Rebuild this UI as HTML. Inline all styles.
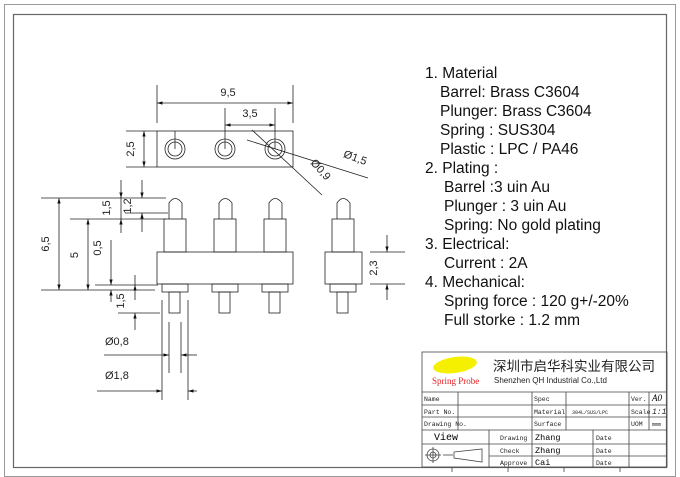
<!DOCTYPE html>
<html><head><meta charset="utf-8"><style>
body{margin:0;background:#fff}
svg{display:block}
.t{font-family:"Liberation Sans",sans-serif;font-size:15.5px;fill:#111}
.d{font-family:"Liberation Sans",sans-serif;font-size:11px;fill:#222}
.s{font-family:"Liberation Mono",monospace;font-size:6.5px;fill:#222}
</style></head><body>
<svg width="680" height="477" viewBox="0 0 680 477" xmlns="http://www.w3.org/2000/svg">
<defs><marker id="a" viewBox="0 0 10 10" refX="10" refY="5" markerWidth="7" markerHeight="7" orient="auto-start-reverse"><path d="M0,2 L10,5 L0,8z" fill="#111"/></marker></defs>
<rect x="4.5" y="4.5" width="671" height="472" fill="none" stroke="#999" stroke-width="1"/>
<rect x="13.5" y="14.5" width="653" height="453" fill="none" stroke="#666" stroke-width="1.2"/>
<g stroke="#222" stroke-width="0.8" fill="none">
<rect x="157" y="131" width="136" height="36"/>
<circle cx="175" cy="149" r="10"/><circle cx="175" cy="149" r="7"/>
<circle cx="225" cy="149" r="10"/><circle cx="225" cy="149" r="7"/>
<circle cx="275" cy="149" r="10"/><circle cx="275" cy="149" r="7"/>
<line x1="157" y1="85" x2="157" y2="123"/><line x1="293" y1="85" x2="293" y2="123"/>
<line x1="157" y1="103" x2="293" y2="103" marker-start="url(#a)" marker-end="url(#a)"/>
<line x1="225" y1="108" x2="225" y2="149"/><line x1="275" y1="108" x2="275" y2="149"/>
<line x1="175" y1="131" x2="175" y2="149"/>
<line x1="225" y1="125" x2="275" y2="125" marker-start="url(#a)" marker-end="url(#a)"/>
<line x1="126" y1="131" x2="157" y2="131"/><line x1="126" y1="167" x2="157" y2="167"/>
<line x1="144" y1="131" x2="144" y2="167" marker-start="url(#a)" marker-end="url(#a)"/>
<line x1="247" y1="140" x2="368" y2="178"/>
<line x1="252" y1="130" x2="322" y2="195"/>
<g id="p">
<path d="M169,219 L169,203 Q175,194 182,203 L182,219"/>
<rect x="164" y="219" width="22" height="33"/>
<rect x="162" y="284" width="26" height="8"/>
<rect x="169" y="292" width="11" height="21"/>
</g>
<use href="#p" x="50"/><use href="#p" x="100"/><use href="#p" x="168"/>
<rect x="157" y="252" width="136" height="32"/>
<rect x="325" y="252" width="37" height="32"/>
<line x1="370" y1="252" x2="405" y2="252"/><line x1="370" y1="284" x2="405" y2="284"/>
<line x1="387" y1="235" x2="387" y2="252" marker-end="url(#a)"/><line x1="387" y1="300" x2="387" y2="284" marker-end="url(#a)"/>
<line x1="41" y1="198" x2="166" y2="198"/><line x1="70" y1="219" x2="166" y2="219"/>
<line x1="125" y1="213" x2="168" y2="213"/>
<line x1="41" y1="290" x2="155" y2="290"/><line x1="95" y1="285" x2="158" y2="285"/>
<line x1="118" y1="313" x2="160" y2="313"/>
<line x1="59" y1="198" x2="59" y2="290" marker-start="url(#a)" marker-end="url(#a)"/>
<line x1="88" y1="219" x2="88" y2="290" marker-start="url(#a)" marker-end="url(#a)"/>
<line x1="121" y1="180" x2="121" y2="198" marker-end="url(#a)"/><line x1="121" y1="233" x2="121" y2="219" marker-end="url(#a)"/><line x1="121" y1="198" x2="121" y2="219"/>
<line x1="142" y1="180" x2="142" y2="198" marker-end="url(#a)"/><line x1="142" y1="232" x2="142" y2="213" marker-end="url(#a)"/>
<line x1="111" y1="240" x2="111" y2="285" marker-end="url(#a)"/><line x1="111" y1="302" x2="111" y2="290" marker-end="url(#a)"/>
<line x1="135" y1="275" x2="135" y2="285" /><line x1="135" y1="300" x2="135" y2="285" marker-end="url(#a)"/><line x1="135" y1="330" x2="135" y2="313" marker-end="url(#a)"/>
<line x1="162" y1="300" x2="162" y2="400"/><line x1="188" y1="300" x2="188" y2="400"/>
<line x1="169" y1="322" x2="169" y2="373"/><line x1="181" y1="322" x2="181" y2="373"/>
<line x1="104" y1="355" x2="169" y2="355" marker-end="url(#a)"/><line x1="197" y1="355" x2="181" y2="355" marker-end="url(#a)"/>
<line x1="97" y1="391" x2="162" y2="391" marker-end="url(#a)"/><line x1="197" y1="391" x2="188" y2="391" marker-end="url(#a)"/>
</g>
<g class="d">
<text x="228" y="96" text-anchor="middle">9,5</text>
<text x="250" y="117" text-anchor="middle">3,5</text>
<text transform="translate(134,149) rotate(-90)" text-anchor="middle">2,5</text>
<text transform="translate(354,161) rotate(20)" text-anchor="middle">Ø1,5</text>
<text transform="translate(318,172) rotate(48)" text-anchor="middle">Ø0,9</text>
<text transform="translate(49,244) rotate(-90)" text-anchor="middle">6,5</text>
<text transform="translate(78,255) rotate(-90)" text-anchor="middle">5</text>
<text transform="translate(110,208) rotate(-90)" text-anchor="middle">1,5</text>
<text transform="translate(131,206) rotate(-90)" text-anchor="middle">1,2</text>
<text transform="translate(101,248) rotate(-90)" text-anchor="middle">0,5</text>
<text transform="translate(124,301) rotate(-90)" text-anchor="middle">1,5</text>
<text transform="translate(377,268) rotate(-90)" text-anchor="middle">2,3</text>
<text x="105" y="345">Ø0,8</text>
<text x="105" y="379">Ø1,8</text>
</g>
<g class="t">
<text x="425" y="78">1. Material</text>
<text x="440" y="97">Barrel: Brass C3604</text>
<text x="440" y="116">Plunger: Brass C3604</text>
<text x="440" y="135">Spring : SUS304</text>
<text x="440" y="154">Plastic : LPC / PA46</text>
<text x="425" y="173">2. Plating :</text>
<text x="444" y="192">Barrel :3 uin Au</text>
<text x="444" y="211">Plunger : 3 uin Au</text>
<text x="444" y="230">Spring: No gold plating</text>
<text x="425" y="249">3. Electrical:</text>
<text x="444" y="268">Current : 2A</text>
<text x="425" y="287">4. Mechanical:</text>
<text x="444" y="306">Spring force : 120 g+/-20%</text>
<text x="444" y="325">Full storke : 1.2 mm</text>
</g>
<g stroke="#444" stroke-width="0.8" fill="none">
<rect x="422" y="352" width="245" height="115"/>
<line x1="422" y1="392" x2="667" y2="392"/><line x1="422" y1="405" x2="667" y2="405"/>
<line x1="422" y1="417" x2="667" y2="417"/><line x1="422" y1="430" x2="667" y2="430"/>
<line x1="422" y1="444" x2="667" y2="444"/><line x1="489" y1="456" x2="667" y2="456"/>
<line x1="458" y1="392" x2="458" y2="430"/><line x1="532" y1="392" x2="532" y2="467"/>
<line x1="566" y1="392" x2="566" y2="430"/><line x1="629" y1="392" x2="629" y2="467"/>
<line x1="649" y1="392" x2="649" y2="430"/><line x1="489" y1="430" x2="489" y2="467"/>
<line x1="593" y1="430" x2="593" y2="467"/>
<circle cx="433" cy="455" r="6"/><circle cx="433" cy="455" r="3"/>
<line x1="425" y1="455" x2="441" y2="455"/><line x1="433" y1="447" x2="433" y2="463"/>
<line x1="443" y1="455" x2="453" y2="455"/>
<path d="M454,452 L482,449 L482,462 L454,458z"/>
<line x1="452" y1="467" x2="452" y2="472"/><line x1="508" y1="467" x2="508" y2="472"/>
<line x1="564" y1="467" x2="564" y2="472"/><line x1="620" y1="467" x2="620" y2="472"/>
</g>
<ellipse cx="455" cy="365" rx="22" ry="8" fill="#f5f000" transform="rotate(-8 455 365)"/>
<text x="432" y="384" style="font-family:'Liberation Serif',serif;font-size:9px;fill:#e02020">Spring Probe</text>
<text x="493" y="371" style="font-family:'Liberation Sans','Noto Sans CJK SC',sans-serif;font-size:13.5px;fill:#222">深圳市启华科实业有限公司</text>
<text x="494" y="383" style="font-family:'Liberation Sans',sans-serif;font-size:8px;fill:#222">Shenzhen QH Industrial Co.,Ltd</text>
<g class="s">
<text x="424" y="401">Name</text><text x="424" y="414">Part No.</text><text x="424" y="426">Drawing No.</text>
<text x="534" y="401">Spec</text><text x="534" y="414">Material</text><text x="534" y="426">Surface</text>
<text x="572" y="414" style="font-size:5px">304L/SUS/LPC</text>
<text x="631" y="401">Ver.</text><text x="631" y="414">Scale</text><text x="631" y="426">UOM</text>
<text x="652" y="414" style="font-size:8px;font-style:italic">1:1</text><text x="652" y="426" style="font-size:5px">mmm</text>
<text x="500" y="440">Drawing</text><text x="500" y="453">Check</text><text x="500" y="465">Approve</text>
<text x="596" y="440">Date</text><text x="596" y="453">Date</text><text x="596" y="465">Date</text>
</g>
<text x="652" y="401" style="font-family:'Liberation Serif',serif;font-size:9px;font-style:italic">A0</text>
<text x="434" y="440" style="font-family:'Liberation Mono',monospace;font-size:10px">View</text>
<g style="font-family:'Liberation Mono',monospace;font-size:8.5px">
<text x="535" y="440">Zhang</text><text x="535" y="453">Zhang</text><text x="535" y="465">Cai</text>
</g>
</svg>
</body></html>
